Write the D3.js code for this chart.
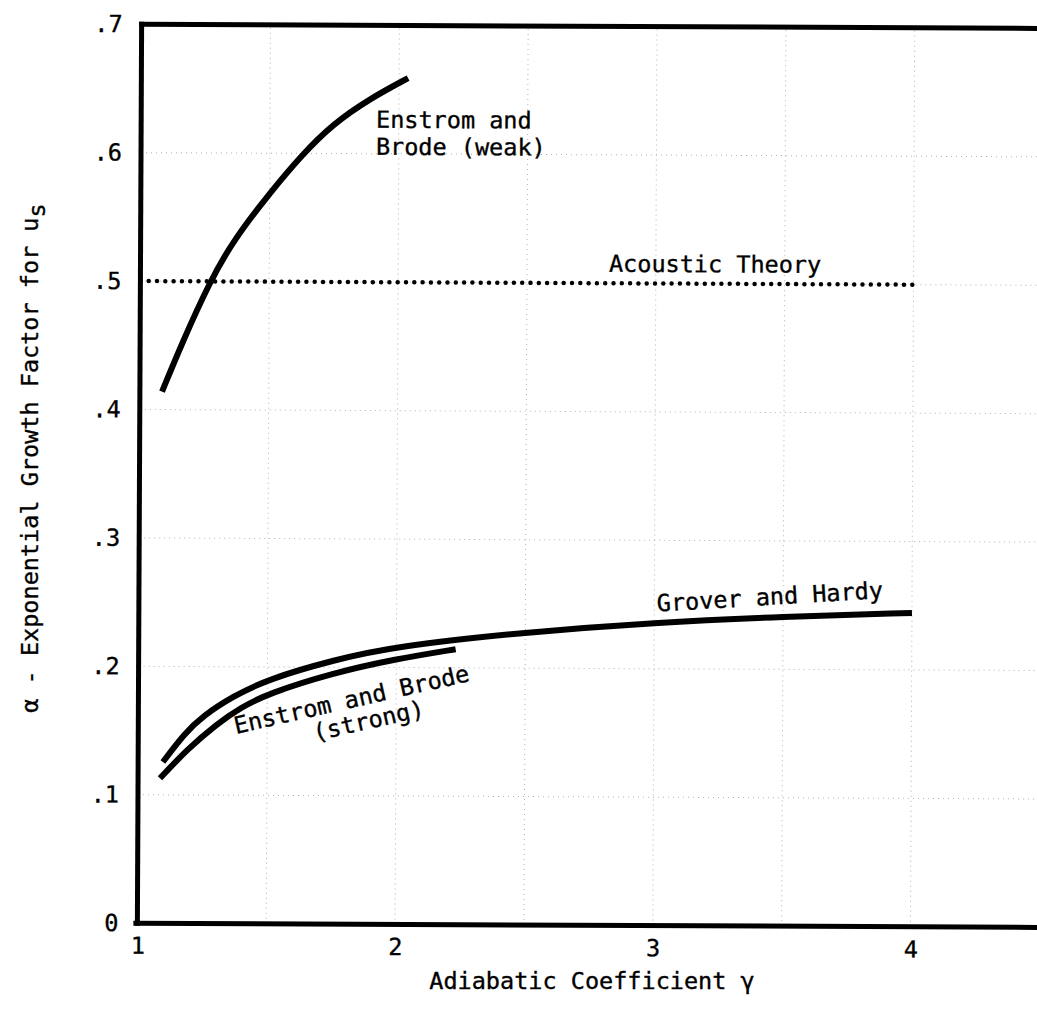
<!DOCTYPE html>
<html>
<head>
<meta charset="utf-8">
<script src="https://cdn.jsdelivr.net/npm/d3@7"></script>
<style>
  html, body { margin: 0; padding: 0; background: #fff; }
  svg { display: block; }
  text { font-family: "DejaVu Sans Mono", monospace; fill: #000; stroke: #000; stroke-width: 0.35px; }
</style>
</head>
<body>
<svg id="chart" width="1037" height="1013"></svg>
<script>
// Axis ticks and grid positions
const gammaTicks = [1, 2, 3, 4];
const gammaTickLabels = ["1", "2", "3", "4"];
const gammaGrid = [1.5, 2, 2.5, 3, 3.5, 4, 4.5];
const alphaTicks = [0, 0.1, 0.2, 0.3, 0.4, 0.5, 0.6, 0.7];
const alphaTickLabels = ["0", ".1", ".2", ".3", ".4", ".5", ".6", ".7"];

// Enstrom and Brode, weak shock
const weakGamma = [1.086, 1.163, 1.27, 1.36, 1.50, 1.625, 1.744, 1.888, 2.035];
const weakAlpha = [0.414, 0.452, 0.500, 0.532, 0.569, 0.599, 0.623, 0.643, 0.659];

// Acoustic theory (constant)
const acousticGamma = [1, 4];
const acousticAlpha = [0.5, 0.5];

// Grover and Hardy
const groverGamma = [1.096, 1.18, 1.25, 1.367, 1.503, 1.754, 1.995, 2.5, 3.0, 3.5, 4.0];
const groverAlpha = [0.1256, 0.148, 0.1615, 0.177, 0.1905, 0.2055, 0.2165, 0.228, 0.236, 0.241, 0.2444];

// Enstrom and Brode, strong shock
const strongGamma = [1.085, 1.19, 1.305, 1.40, 1.50, 1.754, 1.995, 2.23];
const strongAlpha = [0.1129, 0.1355, 0.1555, 0.1685, 0.179, 0.1955, 0.2065, 0.2145];

const svg = d3.select("#chart");
const FONT = 23.5;

const x = d3.scaleLinear().domain([1, 4.6]).range([139.5, 139.5 + 3.6 * 257.7]);
const y = d3.scaleLinear().domain([0, 0.7]).range([925, 26]);

// whole plot sits very slightly askew on the page
const g = svg.append("g").attr("transform", "rotate(0.27, 527, 475)");

// faint dotted grid
const grid = g.append("g")
  .attr("stroke", "#666")
  .attr("stroke-width", 1)
  .attr("stroke-dasharray", "1 4")
  .attr("opacity", 0.5);
grid.selectAll("line.v").data(gammaGrid).join("line")
  .attr("class", "v")
  .attr("x1", d => x(d)).attr("x2", d => x(d))
  .attr("y1", y(0)).attr("y2", y(0.7));
grid.selectAll("line.h").data(alphaTicks.filter(d => d > 0 && d < 0.7)).join("line")
  .attr("class", "h")
  .attr("x1", x(1)).attr("x2", x(4.6))
  .attr("y1", d => y(d)).attr("y2", d => y(d));

// frame: left axis, top border, bottom axis
const frame = g.append("g").attr("stroke", "#000").attr("stroke-width", 5).attr("fill", "none");
frame.append("line").attr("x1", x(1)).attr("x2", x(1)).attr("y1", y(0) + 2.5).attr("y2", y(0.7) - 2.5);
frame.append("line").attr("x1", x(1) - 2.5).attr("x2", x(4.6)).attr("y1", y(0.7)).attr("y2", y(0.7));
frame.append("line").attr("x1", x(1) - 4).attr("x2", x(4.6)).attr("y1", y(0)).attr("y2", y(0));

// axis tick labels
const yAxis = d3.axisLeft(y)
  .tickValues(alphaTicks)
  .tickFormat((d, i) => alphaTickLabels[i])
  .tickSize(0)
  .tickPadding(19);
const yAx = g.append("g").attr("transform", `translate(${x(1)},0)`).call(yAxis);
yAx.select(".domain").remove();
yAx.selectAll("text").attr("font-size", FONT).attr("font-family", "DejaVu Sans Mono");

const xAxis = d3.axisBottom(x)
  .tickValues(gammaTicks)
  .tickFormat((d, i) => gammaTickLabels[i])
  .tickSize(0)
  .tickPadding(14);
const xAx = g.append("g").attr("transform", `translate(0,${y(0)})`).call(xAxis);
xAx.select(".domain").remove();
xAx.selectAll("text").attr("font-size", FONT).attr("font-family", "DejaVu Sans Mono");

// curves (smoothed B-spline through the read-off points)
const line = d3.line()
  .x(d => x(d[0]))
  .y(d => y(d[1]))
  .curve(d3.curveBasis);
const zip = (a, b) => a.map((v, i) => [v, b[i]]);

const curves = g.append("g").attr("fill", "none").attr("stroke", "#000");
curves.append("path").datum(zip(weakGamma, weakAlpha))
  .attr("d", line).attr("stroke-width", 6);
curves.append("path").datum(zip(groverGamma, groverAlpha))
  .attr("d", line).attr("stroke-width", 6);
curves.append("path").datum(zip(strongGamma, strongAlpha))
  .attr("d", line).attr("stroke-width", 6);
curves.append("path").datum(zip(acousticGamma, acousticAlpha))
  .attr("d", d3.line().x(d => x(d[0])).y(d => y(d[1])))
  .attr("stroke-width", 4.5)
  .attr("stroke-linecap", "round")
  .attr("stroke-dasharray", "0 8.3");

// curve labels
const labels = g.append("g").attr("font-size", FONT);
const weakLbl = labels.append("text")
  .attr("x", x(1.9115)).attr("y", y(0.6202));
weakLbl.append("tspan").text("Enstrom and");
weakLbl.append("tspan").attr("x", x(1.9115)).attr("dy", 27).text("Brode (weak)");

labels.append("text").attr("x", x(2.818)).attr("y", y(0.5089)).text("Acoustic Theory");

labels.append("text")
  .attr("transform", `translate(${x(3.012)},${y(0.2445)}) rotate(-3.7)`)
  .text("Grover and Hardy");

labels.append("text")
  .attr("transform", `translate(${x(1.379)},${y(0.1477)}) rotate(-13)`)
  .text("Enstrom and Brode");
labels.append("text")
  .attr("transform", `translate(${x(1.686)},${y(0.1425)}) rotate(-13)`)
  .text("(strong)");

// axis titles
svg.append("text")
  .attr("x", 592).attr("y", 989)
  .attr("text-anchor", "middle")
  .attr("font-size", FONT)
  .text("Adiabatic Coefficient γ");

const yTitle = svg.append("text")
  .attr("transform", "translate(38,458) rotate(-90)")
  .attr("text-anchor", "middle")
  .attr("font-size", FONT);
yTitle.append("tspan").text("α - Exponential Growth Factor for u");
yTitle.append("tspan").attr("dy", 7).text("s");
</script>
</body>
</html>
